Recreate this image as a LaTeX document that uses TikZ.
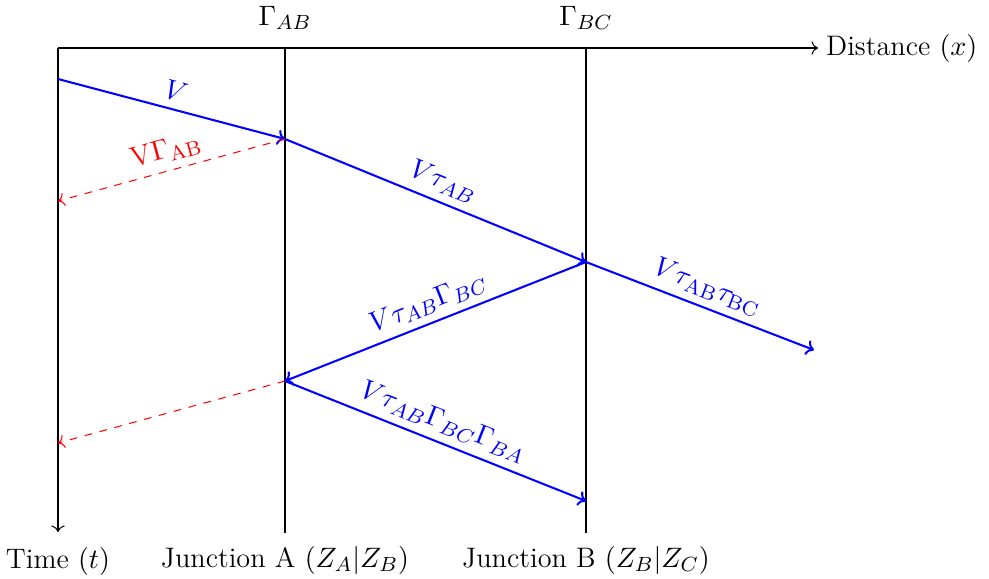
\documentclass[tikz,border=0pt]{standalone}
\usetikzlibrary{arrows.meta}
\begin{document}
\begin{tikzpicture}[x=0.39pt,y=-0.39pt,font=\fontsize{11}{13.5}\selectfont,
  axis/.style={draw=black,line width=0.4pt,-{To[length=2.5pt]}},
  junc/.style={draw=black,line width=0.8pt},
  wave/.style={draw=blue,line width=0.8pt,-{To[length=3pt,width=6pt]}},
  refl/.style={draw=red,line width=0.4pt,dashed,-{To[length=2.5pt]}},
  blab/.style={text=blue,sloped,above,midway,inner sep=3pt},
  rlab/.style={text=red,sloped,above,midway,inner sep=3pt},
  lab/.style={inner sep=1pt}]
\useasboundingbox (0,0) rectangle (989,578);
% axes
\coordinate (O) at (58,48);
\coordinate (xend) at (818,48);
\coordinate (tend) at (58,532);
\draw[axis] (O) -- (xend) node[right=2pt,lab] (dist) {Distance $(x)$};
\draw[axis] (O) -- (tend) node[below=5pt,lab] (time) {Time $(t)$};
% junctions
\coordinate (Atop) at (285,48);
\coordinate (Abot) at (285,533);
\coordinate (Btop) at (586,48);
\coordinate (Bbot) at (586,533);
\draw[junc] (Atop) -- (Abot);
\draw[junc] (Btop) -- (Bbot);
\node[above=6pt,lab] (gab) at (Atop) {$\Gamma_{AB}$};
\node[above=6pt,lab] (gbc) at (Btop) {$\Gamma_{BC}$};
\node[below=4pt,lab] (ja) at (Abot) {Junction A $(Z_A|Z_B)$};
\node[below=4pt,lab] (jb) at (Bbot) {Junction B $(Z_B|Z_C)$};
% wave points
\coordinate (p0) at (58,79);
\coordinate (p1) at (285,139);
\coordinate (p2) at (586,262);
\coordinate (p3) at (814,350);
\coordinate (p4) at (285,381);
\coordinate (p5) at (586,501);
\coordinate (r1) at (58,201);
\coordinate (r2) at (58,443);
\draw[wave] (p0) -- (p1) node[blab] {$V$};
\draw[wave] (p1) -- (p2) node[blab] {$V\tau_{AB}$};
\draw[wave] (p2) -- (p3) node[blab] {$V\tau_{\mathrm{AB}}\tau_{\mathrm{BC}}$};
\draw[wave] (p2) -- (p4);
\path (p4) -- (p2) node[blab] {$V\tau_{AB}\Gamma_{BC}$};
\draw[wave] (p4) -- (p5) node[blab] {$V\tau_{AB}\Gamma_{BC}\Gamma_{BA}$};
\draw[refl] (p1) -- (r1);
\path (r1) -- (p1) node[rlab] {V$\Gamma_{\mathrm{AB}}$};
\draw[refl] (p4) -- (r2);
\end{tikzpicture}
\end{document}
